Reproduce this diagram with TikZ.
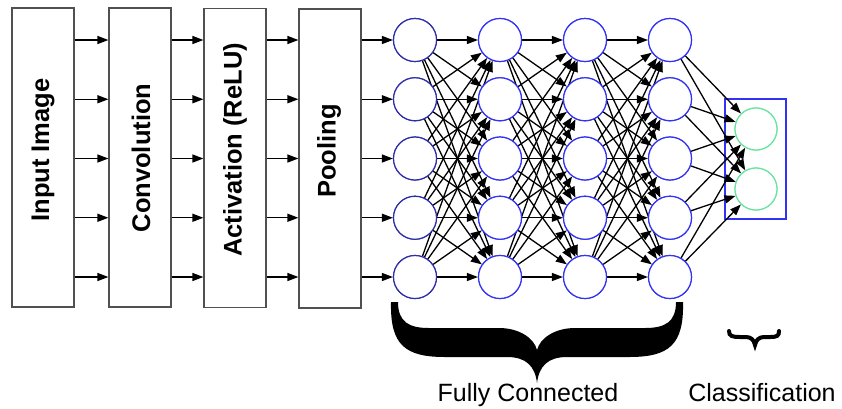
\documentclass[tikz,border=0pt]{standalone}
\usepackage{fontspec}
\setmainfont{Liberation Sans}
\usetikzlibrary{arrows.meta}
\definecolor{boxgray}{RGB}{80,80,80}
\definecolor{navyblue}{RGB}{45,45,170}
\definecolor{brightblue}{RGB}{50,50,245}
\definecolor{mint}{RGB}{105,228,160}
\tikzset{
  stage/.style={draw=boxgray, line width=1.2pt, minimum width=62pt, minimum height=299pt, inner sep=0pt},
  stagelabel/.style={rotate=90, font=\fontsize{25.5}{30}\selectfont\bfseries, inner sep=0pt},
  arr/.style={-{Triangle[length=11pt,width=8pt]}, line width=1.3pt, black},
  neuron/.style={circle, draw=brightblue, fill=white, line width=1.2pt, minimum size=43pt, inner sep=0pt},
  firstneuron/.style={neuron, draw=navyblue},
  outneuron/.style={neuron, draw=mint, minimum size=42pt},
  caption/.style={font=\fontsize{25}{30}\selectfont, inner sep=0pt}
}
\begin{document}
\begin{tikzpicture}[x=1pt,y=-1pt]
\useasboundingbox (0,0) rectangle (842,408);
% stages
\node[stage] (b1) at (43,157.5) {};
\node[stage] (b2) at (140,157.5) {};
\node[stage] (b3) at (235,158) {};
\node[stage] (b4) at (330,158.5) {};
\node[stagelabel] (l1) at (43,150) {Input Image};
\node[stagelabel] (l2) at (141,158) {Convolution};
\node[stagelabel] (l3) at (235,150) {Activation (ReLU)};
\node[stagelabel] (l4) at (329,151) {Pooling};
% neurons
\foreach \k in {1,...,5}{
  \pgfmathsetmacro{\yy}{40+59.25*(\k-1)}
  \coordinate (r\k) at (0,\yy);
  \node[firstneuron] (n1-\k) at (415,\yy) {};
  \node[neuron] (n2-\k) at (500,\yy) {};
  \node[neuron] (n3-\k) at (585,\yy) {};
  \node[neuron] (n4-\k) at (670,\yy) {};
}
\node[draw=brightblue, line width=1.5pt, minimum width=61pt, minimum height=120pt, inner sep=0pt] (cbox) at (755.5,159) {};
\node[outneuron] (c1) at (756,129) {};
\node[outneuron] (c2) at (756,189) {};
% arrows between stages
\foreach \k in {1,...,5}{
  \draw[arr] (b1.east |- r\k) -- (b2.west |- r\k);
  \draw[arr] (b2.east |- r\k) -- (b3.west |- r\k);
  \draw[arr] (b3.east |- r\k) -- (b4.west |- r\k);
  \draw[arr] (b4.east |- r\k) -- (n1-\k);
}
% fully connected edges
\foreach \i in {1,...,5}{
  \foreach \j in {1,...,5}{
    \draw[arr] (n1-\i) -- (n2-\j);
    \draw[arr] (n2-\i) -- (n3-\j);
    \draw[arr] (n3-\i) -- (n4-\j);
  }
  \draw[arr] (n4-\i) -- (c1);
  \draw[arr] (n4-\i) -- (c2);
}
% redraw neurons on top
\foreach \k in {1,...,5}{
  \node[firstneuron] at (n1-\k) {};
  \node[neuron] at (n2-\k) {};
  \node[neuron] at (n3-\k) {};
  \node[neuron] at (n4-\k) {};
}
\node[outneuron] at (c1) {};
\node[outneuron] at (c2) {};
% big brace
\fill[black] (391,302) .. controls (390,345) and (405,357) .. (445,357) -- (507,357)
  .. controls (526,357) and (535,366) .. (537,383)
  .. controls (539,366) and (548,357) .. (567,357) -- (629,357)
  .. controls (669,357) and (684,345) .. (683,302) -- (676,302)
  .. controls (676,322) and (665,328) .. (645,328) -- (575,328)
  .. controls (555,328) and (540,338) .. (537,350)
  .. controls (534,338) and (519,328) .. (499,328) -- (429,328)
  .. controls (409,328) and (398,322) .. (398,302) -- cycle;
% small brace
\draw[line width=4pt, line cap=round] (729,331) .. controls (729,336) and (732,337) .. (740,337) -- (746,337)
  .. controls (751,337) and (754,340) .. (755,345)
  .. controls (756,340) and (759,337) .. (764,337) -- (770,337)
  .. controls (777,337) and (779,336) .. (779,331);
\node[caption] (fc) at (528,395) {Fully Connected};
\node[caption] (cl) at (762,393) {Classification};
\end{tikzpicture}
\end{document}
